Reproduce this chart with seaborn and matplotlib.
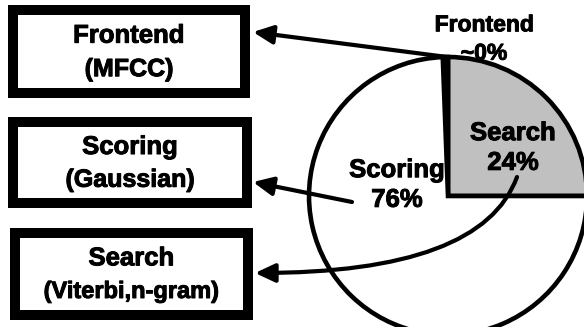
import matplotlib
matplotlib.use("Agg")
import matplotlib.pyplot as plt
import matplotlib.patheffects as pe
import seaborn as sns
from matplotlib.patches import Rectangle

sns.set_theme(style="white")
plt.rcParams['font.family'] = ['Liberation Sans', 'DejaVu Sans']
plt.rcParams['text.color'] = 'black'

# pie slices, counter-clockwise from 3 o'clock
slice_names = ['Search', 'Frontend', 'Scoring']
slice_shares = [25, 0.6, 74.4]
slice_labels = ['Search\n24%', 'Frontend\n~0%', 'Scoring\n76%']
slice_colors = ['#c0c0c0', 'black', 'white']

# boxes on the left
box_titles = ['Frontend', 'Scoring', 'Search']
box_subtitles = ['(MFCC)', '(Gaussian)', '(Viterbi,n-gram)']

W, H = 584, 327
fig = plt.figure(figsize=(W / 100, H / 100), dpi=100)
ax = fig.add_axes([0, 0, 1, 1])

cx, cy, r = 448, H - 196, 139
ax.pie(slice_shares, colors=slice_colors, startangle=0, counterclock=True,
       center=(cx, cy), radius=r, frame=True,
       wedgeprops=dict(edgecolor='black', linewidth=3.3))
ax.set_xlim(0, W)
ax.set_ylim(0, H)
ax.set_aspect('equal')
ax.axis('off')

bold = dict(fontweight='bold', ha='center', va='center', zorder=5,
            path_effects=[pe.withStroke(linewidth=0.7, foreground='black')])

# labels on the pie
ax.text(513, H - 148, slice_labels[0], fontsize=18.5, linespacing=1.3, **bold)
ax.text(484, H - 39, slice_labels[1], fontsize=16.5, linespacing=1.3, **bold)
ax.text(397, H - 185, slice_labels[2], fontsize=18.5, linespacing=1.3, **bold)

# boxes (image coords: left, top, right, bottom)
box_pos = [(8, 5, 250, 98), (8, 117, 252, 208), (10, 228, 253, 320)]
lw_px = 10
for (x0, y0, x1, y1), t, s in zip(box_pos, box_titles, box_subtitles):
    ax.add_patch(Rectangle((x0 + lw_px / 2, H - y1 + lw_px / 2),
                           x1 - x0 - lw_px, y1 - y0 - lw_px,
                           facecolor='white', edgecolor='black',
                           linewidth=lw_px * 0.72, zorder=3))
    xm = (x0 + x1) / 2
    h = y1 - y0
    ax.text(xm, H - (y0 + h * 0.33), t, fontsize=18.5, **bold)
    ax.text(xm, H - (y0 + h * 0.69), s,
            fontsize=18 if len(s) < 12 else 17, **bold)

arrow = dict(arrowstyle='-|>,head_length=0.6,head_width=0.28', color='black',
             linewidth=3, mutation_scale=20, shrinkA=0, shrinkB=0)
ax.annotate('', xy=(253, H - 32), xytext=(447, H - 57), arrowprops=arrow, zorder=6)
ax.annotate('', xy=(253, H - 182), xytext=(352, H - 202), arrowprops=arrow, zorder=6)
ax.annotate('', xy=(255, H - 273), xytext=(517, H - 177),
            arrowprops=dict(arrow, connectionstyle='angle3,angleA=70,angleB=0'),
            zorder=6)

fig.savefig('out.png', dpi=100)
